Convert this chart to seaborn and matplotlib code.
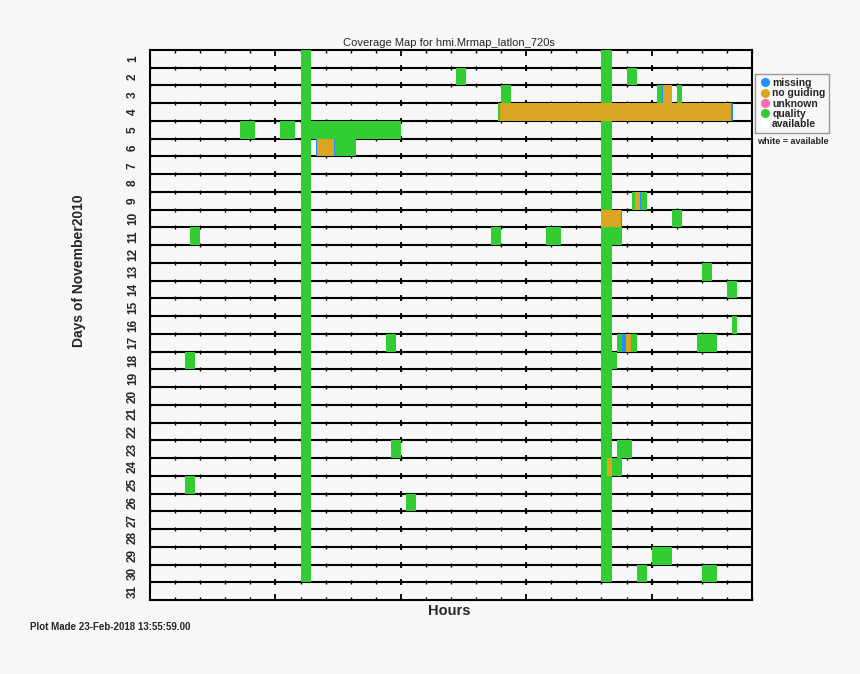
import numpy as np
import pandas as pd
import matplotlib
matplotlib.use("Agg")
import matplotlib.pyplot as plt
import seaborn as sns
from matplotlib.lines import Line2D

# ---------------- data ----------------
days = list(range(1, 32))
day_labels = [str(d) for d in days]

# regular calibration band present on days 1..30
band_days = list(range(1, 31))
band_start = [6.0, 18.0]
band_end = [6.4, 18.4]

quality_day = [2, 2, 3, 3, 3, 4, 5, 5, 5, 6, 9, 9, 10, 11, 11, 11, 11, 13, 14, 16,
               17, 17, 17, 17, 18, 18, 23, 23, 24, 25, 26, 29, 30, 30]
quality_start = [12.2, 19.0, 14.0, 20.2, 21.0, 13.86, 3.6, 5.2, 6.0, 7.38, 19.22, 19.58,
                 20.8, 1.6, 13.6, 15.8, 18.0, 22.0, 23.0, 23.2,
                 9.4, 18.6, 19.18, 21.8, 1.4, 18.0, 9.6, 18.6, 18.4, 1.4, 10.2, 20.0, 19.4, 22.0]
quality_end = [12.6, 19.4, 14.4, 20.4, 21.2, 13.95, 4.2, 5.8, 10.0, 8.2, 19.34, 19.8,
               21.2, 2.0, 14.0, 16.4, 18.8, 22.4, 23.4, 23.4,
               9.8, 18.82, 19.4, 22.6, 1.8, 18.6, 10.0, 19.2, 18.8, 1.8, 10.6, 20.8, 19.8, 22.6]

noguide_day = [3, 4, 6, 9, 10, 17, 24]
noguide_start = [20.47, 13.95, 6.65, 19.34, 18.0, 18.97, 18.2]
noguide_end = [20.8, 23.18, 7.33, 19.54, 18.78, 19.18, 18.4]

missing_day = [3, 4, 6, 6, 9, 10, 17]
missing_start = [20.41, 23.18, 6.6, 7.33, 19.54, 18.78, 18.82]
missing_end = [20.47, 23.24, 6.65, 7.38, 19.59, 18.83, 18.97]

legend_labels = ["missing", "no guiding", "unknown", "quality", "available"]
legend_colors = ["#1E90FF", "#DAA520", "#FF69B4", "#32CD32", "#FFFFFF"]

minor_hours = list(range(0, 25))
major_hours = [0, 5, 10, 15, 20]

# ---------------- style ----------------
BG = "#f7f7f7"
sns.set_theme(style="white")
plt.rcParams["font.family"] = ["Liberation Sans", "DejaVu Sans"]

fig = plt.figure(figsize=(8.6, 6.74), dpi=100)
fig.patch.set_facecolor(BG)
ax = fig.add_axes([150 / 860, 1 - 600 / 674, 602 / 860, 550 / 674])
ax.set_facecolor(BG)

# segments table
rows = []
for d in band_days:
    for s, e in zip(band_start, band_end):
        rows.append((d, s, e, "quality", 0))
for d, s, e in zip(quality_day, quality_start, quality_end):
    rows.append((d, s, e, "quality", 1))
for d, s, e in zip(noguide_day, noguide_start, noguide_end):
    rows.append((d, s, e, "no guiding", 2))
for d, s, e in zip(missing_day, missing_start, missing_end):
    rows.append((d, s, e, "missing", 3))
seg = pd.DataFrame(rows, columns=["day", "start", "end", "status", "layer"])
pal = dict(zip(legend_labels, legend_colors))

# row separator lines with tick marks
bounds = np.arange(days[0] + 0.5, days[-1], 1.0)
ax.hlines(bounds, 0, 24, color="black", lw=1.5, zorder=2)
for y in bounds:
    ax.plot(minor_hours, [y] * len(minor_hours), ls="none", marker="|", ms=3,
            mew=1.0, color="black", zorder=2)
    ax.plot(major_hours, [y] * len(major_hours), ls="none", marker="|", ms=5,
            mew=1.3, color="black", zorder=2)

for layer in sorted(seg["layer"].unique()):
    sub = seg[seg["layer"] == layer]
    ax.barh(sub["day"], sub["end"] - sub["start"], left=sub["start"], height=1.0,
            color=[pal[s] for s in sub["status"]], linewidth=0, zorder=3 + layer)

ax.set_xlim(0, 24)
ax.set_ylim(days[-1] + 0.5, days[0] - 0.5)

ax.set_xticks(major_hours)
ax.set_xticks(minor_hours, minor=True)
ax.tick_params(axis="x", which="both", direction="in", top=True, bottom=True,
               labelbottom=False, color="black")
ax.tick_params(axis="x", which="major", length=4, width=1.3)
ax.tick_params(axis="x", which="minor", length=2.5, width=1.0)

ax.set_yticks(days)
ax.set_yticklabels(day_labels, rotation=90, fontsize=8.5, fontweight="bold",
                   va="center")
ax.tick_params(axis="y", length=0, pad=8)

for sp in ax.spines.values():
    sp.set_visible(True)
    sp.set_color("black")
    sp.set_linewidth(1.5)

# texts
fig.text(449 / 860, 1 - 43 / 674, "Coverage Map for hmi.Mrmap_latlon_720s",
         ha="center", va="center", fontsize=8)
fig.text(449 / 860, 1 - 611 / 674, "Hours", ha="center", va="center",
         fontsize=10.5, fontweight="bold")
fig.text(79 / 860, 1 - 271 / 674, "Days of November2010", ha="center", va="center",
         rotation=90, fontsize=10, fontweight="bold")
fig.text(30 / 860, 1 - 627 / 674, "Plot Made 23-Feb-2018 13:55:59.00", ha="left",
         va="center", fontsize=7, fontweight="bold")

handles = [Line2D([0], [0], marker="o", ls="none", ms=5.5, mfc=c, mec=c)
           for c in legend_colors]
leg = ax.legend(handles, legend_labels, loc="upper left",
                bbox_to_anchor=(755 / 860, 1 - 74.5 / 674),
                bbox_transform=fig.transFigure, fancybox=False, frameon=True,
                edgecolor="#999999", facecolor=BG, framealpha=1,
                prop={"size": 7.5, "weight": "bold"}, handlelength=1.2,
                handletextpad=0.1, labelspacing=0.03, borderpad=0.35,
                borderaxespad=0)
leg.get_frame().set_linewidth(1.0)
fig.text(757 / 860, 1 - 141 / 674, "white = available", ha="left", va="center",
         fontsize=6.5, fontweight="bold")

fig.savefig("out.png", dpi=100, facecolor=BG)
